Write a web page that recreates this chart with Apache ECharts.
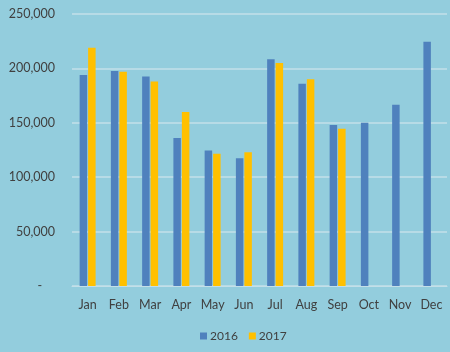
<!DOCTYPE html>
<html>
<head>
<meta charset="utf-8">
<script src="https://cdn.jsdelivr.net/npm/echarts@6/dist/echarts.min.js"></script>
<style>
  html, body { margin: 0; padding: 0; background: #93cddd; }
  #chart { width: 450px; height: 352px; }
</style>
</head>
<body>
<div id="chart"></div>
<script>
// months on the x axis
const months = ['Jan', 'Feb', 'Mar', 'Apr', 'May', 'Jun', 'Jul', 'Aug', 'Sep', 'Oct', 'Nov', 'Dec']
// values
const sales2016 = [194000, 197500, 192500, 136000, 124500, 117500, 208500, 186000, 148000, 150000, 166500, 224500]
const sales2017 = [219000, 197000, 188000, 160000, 121500, 123000, 205000, 190000, 144500, null, null, null]

let chart = echarts.init(document.getElementById('chart'))
chart.setOption({
    backgroundColor: '#93cddd',
    animation: false,
    textStyle: {
        fontFamily: 'Lato'
    },
    grid: {
        left: 72,
        right: 3,
        top: 14,
        bottom: 66
    },
    legend: {
        top: 325,
        left: 195,
        icon: 'rect',
        itemWidth: 7,
        itemHeight: 7,
        itemGap: 11,
        textStyle: {
            color: '#404040',
            fontSize: 12,
            padding: [0, 0, 0, -2]
        },
        data: ['2016', '2017']
    },
    xAxis: {
        type: 'category',
        data: months,
        axisLine: {
            lineStyle: {
                color: '#c3dfe8'
            }
        },
        axisTick: {
            show: false
        },
        axisLabel: {
            color: '#404040',
            fontSize: 12.5,
            margin: 12
        }
    },
    yAxis: {
        type: 'value',
        min: 0,
        max: 250000,
        interval: 50000,
        axisLine: {
            show: false
        },
        axisTick: {
            show: false
        },
        splitLine: {
            lineStyle: {
                color: '#c3dfe8',
                width: 1.5
            }
        },
        axisLabel: {
            color: '#404040',
            fontSize: 12.5,
            margin: 17,
            formatter: function (v) {
                if (v === 0) return '-    '
                return v.toLocaleString('en-US')
            }
        }
    },
    series: [
        {
            name: '2016',
            type: 'bar',
            barWidth: 7.5,
            barGap: '13%',
            itemStyle: {
                color: '#4f81bd'
            },
            data: sales2016
        },
        {
            name: '2017',
            type: 'bar',
            barWidth: 7.5,
            itemStyle: {
                color: '#ffc000'
            },
            data: sales2017
        }
    ]
})
</script>
</body>
</html>
